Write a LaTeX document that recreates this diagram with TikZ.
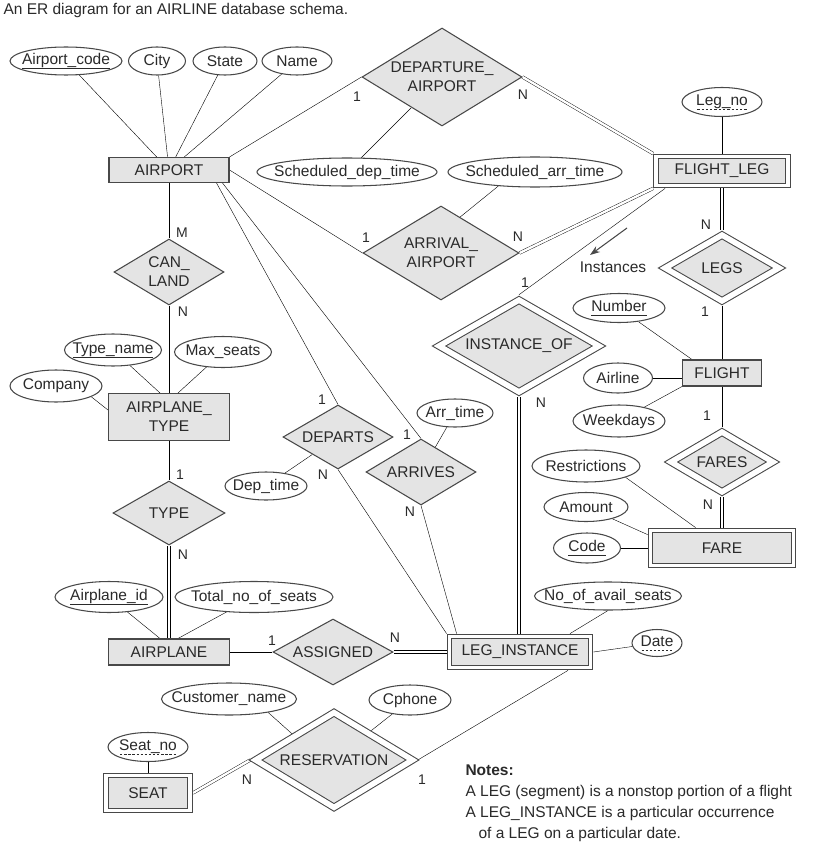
\documentclass[tikz,border=0pt]{standalone}
\usepackage{fontspec}
\setmainfont{Liberation Sans}
\usetikzlibrary{shapes.geometric, arrows.meta, backgrounds}

\definecolor{linegray}{HTML}{484848}
\definecolor{boxgray}{HTML}{E4E4E4}
\definecolor{textgray}{HTML}{2A2A2A}

% key and partial key underlines
\newcommand{\keyline}[1]{\setbox0\hbox{#1}\rlap{\raisebox{-4pt}{\rule{\wd0}{0.8pt}}}\box0}
\newcommand{\partkey}[1]{\setbox0\hbox{#1}\rlap{\raisebox{-4pt}{\hbox to \wd0{\xleaders\hbox to 4pt{\hss\rule{2.4pt}{0.8pt}\hss}\hfill}}}\box0}

\begin{document}
\begin{tikzpicture}[x=1pt, y=-1pt, >=Stealth, color=linegray, line width=1.05pt,
                    every node/.style={text=textgray, font=\fontsize{15.5}{19}\selectfont},
                    entity/.style={rectangle, draw, fill=boxgray, inner sep=0pt, align=center},
                    weak/.style={entity, double=white, double distance=3.8pt, outer sep=2.9pt},
                    attr/.style={ellipse, draw, fill=white, inner xsep=-12pt, inner ysep=0pt},
                    rel/.style={diamond, draw, fill=boxgray, inner sep=0pt, align=center},
                    idrel/.style={rel, double=white, double distance=5.5pt, outer sep=3.8pt},
                    total/.style={double=white, double distance=2.4pt},
                    card/.style={inner sep=0pt, font=\fontsize{14}{16}\selectfont}]

\useasboundingbox (0,0) rectangle (822,848);

% Title
\node[anchor=west, inner sep=0pt] (title) at (3,10) {An ER diagram for an AIRLINE database schema.};

% Entities
\node[entity, minimum width=120pt, minimum height=25pt] (airport) at (169,170) {AIRPORT};
\node[entity, minimum width=121pt, minimum height=47pt] (airtype) at (169,417) {AIRPLANE\_\\TYPE};
\node[entity, minimum width=121pt, minimum height=26pt] (airplane) at (169,652) {AIRPLANE};
\node[entity, minimum width=79pt, minimum height=26pt] (flight) at (722,373) {FLIGHT};
\node[weak, minimum width=132pt, minimum height=29pt] (flightleg) at (722,171) {FLIGHT\_LEG};
\node[weak, minimum width=143pt, minimum height=35pt] (fare) at (722,548) {FARE};
\node[weak, minimum width=141pt, minimum height=31pt] (leginst) at (520,652) {LEG\_INSTANCE};
\node[weak, minimum width=84pt, minimum height=35pt] (seat) at (148,793) {SEAT};

% Relationships
\node[rel, minimum width=160pt, minimum height=98pt, aspect=1.63] (depapt) at (442,77) {DEPARTURE\_\\AIRPORT};
\node[rel, minimum width=156pt, minimum height=94pt, aspect=1.66] (arrapt) at (441,253) {ARRIVAL\_\\AIRPORT};
\node[rel, minimum width=110pt, minimum height=66pt, aspect=1.67] (canland) at (169,272) {CAN\_\\LAND};
\node[rel, minimum width=112pt, minimum height=64pt, aspect=1.75] (typerel) at (169,513) {TYPE};
\node[rel, minimum width=110pt, minimum height=64pt, aspect=1.72] (departs) at (338,437) {DEPARTS};
\node[rel, minimum width=110pt, minimum height=66pt, aspect=1.67] (arrives) at (421,472) {ARRIVES};
\node[rel, minimum width=120pt, minimum height=66pt, aspect=1.82] (assigned) at (333,652) {ASSIGNED};
\node[idrel, minimum width=117pt, minimum height=69pt, aspect=1.7] (legs) at (722,268) {LEGS};
\node[idrel, minimum width=105pt, minimum height=63pt, aspect=1.67] (fares) at (722,462) {FARES};
\node[idrel, minimum width=163pt, minimum height=95pt, aspect=1.72] (instof) at (519,346) {INSTANCE\_OF};
\node[idrel, minimum width=160pt, minimum height=98pt, aspect=1.63] (reserv) at (334,760) {RESERVATION};

% Attributes
\node[attr, minimum width=112pt, minimum height=28pt] (apcode) at (66,61) {\keyline{Airport\_code}};
\node[attr, minimum width=57pt, minimum height=28pt] (city) at (157,61) {City};
\node[attr, minimum width=64pt, minimum height=28pt] (state) at (225,61) {State};
\node[attr, minimum width=70pt, minimum height=28pt] (apname) at (297,61) {Name};
\node[attr, minimum width=180pt, minimum height=28pt] (scheddep) at (347,172) {Scheduled\_dep\_time};
\node[attr, minimum width=174pt, minimum height=30pt] (schedarr) at (535,172) {Scheduled\_arr\_time};
\node[attr, minimum width=80pt, minimum height=29pt] (legno) at (722,102) {\partkey{Leg\_no}};
\node[attr, minimum width=92pt, minimum height=29pt] (number) at (619,308) {\keyline{Number}};
\node[attr, minimum width=69pt, minimum height=30pt] (airline) at (618,378) {Airline};
\node[attr, minimum width=92pt, minimum height=32pt] (weekdays) at (619,421) {Weekdays};
\node[attr, minimum width=108pt, minimum height=32pt] (restrict) at (586,466) {Restrictions};
\node[attr, minimum width=84pt, minimum height=29pt] (amount) at (586,507) {Amount};
\node[attr, minimum width=67pt, minimum height=30pt] (code) at (587,548) {\keyline{Code}};
\node[attr, minimum width=147pt, minimum height=28pt] (availseats) at (608,596) {No\_of\_avail\_seats};
\node[attr, minimum width=50pt, minimum height=27pt] (date) at (657,643) {\partkey{Date}};
\node[attr, minimum width=135pt, minimum height=32pt] (custname) at (229,699) {Customer\_name};
\node[attr, minimum width=82pt, minimum height=30pt] (cphone) at (410,700) {Cphone};
\node[attr, minimum width=80pt, minimum height=29pt] (seatno) at (148,747) {\partkey{Seat\_no}};
\node[attr, minimum width=97pt, minimum height=32pt] (typename) at (113,350) {\keyline{Type\_name}};
\node[attr, minimum width=97pt, minimum height=31pt] (maxseats) at (223,352) {Max\_seats};
\node[attr, minimum width=92pt, minimum height=32pt] (company) at (56,386) {Company};
\node[attr, minimum width=108pt, minimum height=31pt] (airplaneid) at (109,597) {\keyline{Airplane\_id}};
\node[attr, minimum width=158pt, minimum height=31pt] (totalseats) at (254,597) {Total\_no\_of\_seats};
\node[attr, minimum width=76pt, minimum height=28pt] (arrtime) at (455,413) {Arr\_time};
\node[attr, minimum width=82pt, minimum height=28pt] (deptime) at (266,486) {Dep\_time};

% Cardinalities
\node[card] (c-depapt-1) at (357,97) {1};
\node[card] (c-depapt-n) at (523,95) {N};
\node[card] (c-arrapt-1) at (366,238) {1};
\node[card] (c-arrapt-n) at (518,237) {N};
\node[card] (c-instof-1) at (525,283) {1};
\node[card] (c-instof-n) at (541,403) {N};
\node[card] (c-legs-n) at (706,225) {N};
\node[card] (c-legs-1) at (705,312) {1};
\node[card] (c-fares-1) at (707,416) {1};
\node[card] (c-fares-n) at (708,505) {N};
\node[card] (c-canland-m) at (182,233) {M};
\node[card] (c-canland-n) at (183,312) {N};
\node[card] (c-type-1) at (180,475) {1};
\node[card] (c-type-n) at (183,555) {N};
\node[card] (c-assigned-1) at (272,641) {1};
\node[card] (c-assigned-n) at (395,638) {N};
\node[card] (c-departs-1) at (322,400) {1};
\node[card] (c-departs-n) at (323,475) {N};
\node[card] (c-arrives-1) at (407,435) {1};
\node[card] (c-arrives-n) at (410,512) {N};
\node[card] (c-reserv-n) at (247,780) {N};
\node[card] (c-reserv-1) at (422,780) {1};

% Instances arrow
\coordinate (inst-tail) at (627,228);
\coordinate (inst-head) at (590,255);
\draw[-{Stealth[length=10pt, width=7pt]}] (inst-tail) -- (inst-head);
\node (instances) at (613,267) {Instances};

% Notes
\node[anchor=north west, align=left, inner sep=0pt, font=\fontsize{15.5}{21}\selectfont] (notes) at (465,764)
  {\textbf{Notes:}\\A LEG (segment) is a nonstop portion of a flight\\A LEG\_INSTANCE is a particular occurrence\\\hspace*{13pt}of a LEG on a particular date.};

% Edges
\begin{scope}[on background layer]
\fill[white] (0,0) rectangle (822,848);
\draw (apcode) -- (airport);
\draw (city) -- (airport);
\draw (state) -- (airport);
\draw (apname) -- (airport);
\draw (airport.north east) -- (depapt.west);
\draw[total] (depapt.east) -- (flightleg.north west);
\draw (scheddep) -- (depapt);
\draw (airport.east) -- (arrapt.west);
\draw[total] (arrapt.east) -- (flightleg.south west);
\draw (schedarr.-159) -- (arrapt.62);
\draw (legno) -- (flightleg);
\draw ([xshift=12pt]flightleg.south west) -- (instof.north);
\draw[total] (flightleg) -- (legs);
\draw (legs) -- (flight);
\draw (number) -- ([xshift=10pt]flight.north west);
\draw (airline.east) -- (airline.east -| flight.west);
\draw (weekdays) -- (flight.south west);
\draw (flight) -- (fares);
\draw[total] (fares) -- (fare);
\draw (restrict.-16) -- ([xshift=48pt]fare.north west);
\draw (amount) -- ([yshift=-7pt]fare.north west);
\draw (code) -- (fare);
\draw[total] (instof.south) -- (instof.south |- leginst.north);
\draw (availseats.south) -- ([xshift=50pt]leginst.north);
\draw (date) -- (leginst.east);
\draw ([xshift=48pt]leginst.south) -- (reserv.east);
\draw (custname.-19) -- (reserv.148);
\draw (cphone) -- (reserv);
\draw (seatno) -- (seat);
\draw[total] (seat.east) -- (reserv.west);
\draw (airport) -- (canland);
\draw (canland) -- (airtype);
\draw (typename) -- ([xshift=-9pt]airtype.north);
\draw (maxseats) -- ([xshift=9pt]airtype.north);
\draw (company.-17) -- ([yshift=7pt]airtype.west);
\draw (airtype) -- (typerel);
\draw[total] (typerel) -- (airplane);
\draw (airplaneid) -- ([xshift=-9pt]airplane.north);
\draw (totalseats) -- ([xshift=9pt]airplane.north);
\draw (airplane) -- (assigned);
\draw[total] (assigned) -- (leginst);
\draw ([xshift=-13pt]airport.south east) -- (departs.north);
\draw ([xshift=-7pt]airport.south east) -- (arrives.north);
\draw (deptime) -- (departs);
\draw (arrtime) -- (arrives);
\draw (departs.south) -- (leginst.north west);
\draw (arrives.south) -- ([xshift=10pt]leginst.north west);
\end{scope}

\end{tikzpicture}
\end{document}
